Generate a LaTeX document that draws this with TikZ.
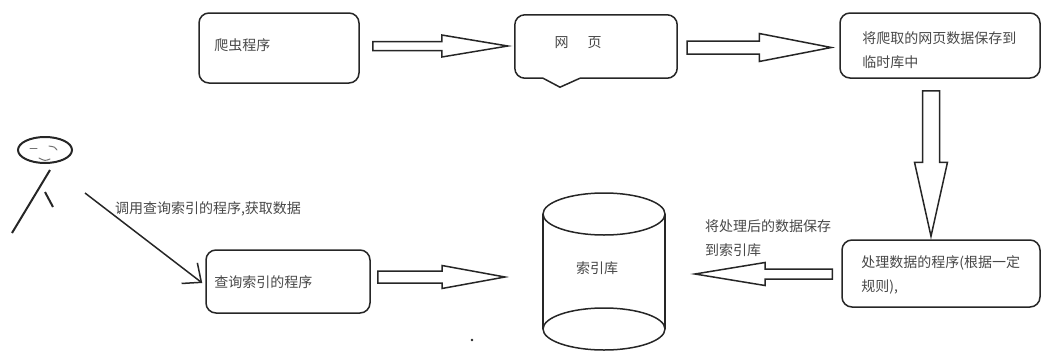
\documentclass[tikz,border=0pt]{standalone}
\usepackage{fontspec}
\newfontfamily\cjk{Noto Sans CJK SC}
\usetikzlibrary{calc,arrows.meta}

% Hollow block arrow: #1 tail, #2 tip, #3 shaft half-width, #4 head half-width, #5 head length
\newcommand\fatarrow[5]{%
  \path ($(#2)!#5!(#1)$) coordinate (fabase);
  \draw[ink, line join=miter]
    ($(#1)!#3!90:(#2)$) -- ($(fabase)!#3!90:(#2)$) -- ($(fabase)!#4!90:(#2)$)
    -- (#2)
    -- ($(fabase)!#4!-90:(#2)$) -- ($(fabase)!#3!-90:(#2)$) -- ($(#1)!#3!-90:(#2)$) -- cycle;
}

\begin{document}
\begin{tikzpicture}[x=1pt,y=-1pt,
  ink/.style={draw=black!85, line width=1.5pt},
  box/.style={ink, rounded corners=10pt, inner sep=0pt},
  txt/.style={font=\cjk\fontsize{14pt}{24pt}\selectfont, text=black!72, inner sep=0pt, align=left},
  face/.style={draw=black!55, line width=1pt, line cap=round}]

\useasboundingbox (0,0) rectangle (1042,351);

% ---- boxes ----
\node[box, minimum width=160pt, minimum height=70pt] (crawler) at (279,48) {};
\node[txt, anchor=west] (crawlertext) at ($(crawler.west)+(16,-3)$) {爬虫程序};

\node[minimum width=162pt, minimum height=63pt, inner sep=0pt] (page) at (596,46.5) {};
\draw[ink, rounded corners=10pt] ($(page.south)+(-16,0)$) -- (page.south east) -- (page.north east)
  -- (page.north west) -- (page.south west) -- ($(page.south)+(-53,0)$);
\draw[ink, line join=miter] ($(page.south)+(-53,0)$) -- ($(page.south)+(-36,9)$) -- ($(page.south)+(-16,0)$);
\node[txt] (pagetext) at ($(page.center)+(-18,-3.5)$) {网\hspace{19pt}页};

\node[box, minimum width=200pt, minimum height=65pt] (store) at (940,45.5) {};
\node[txt, anchor=west] (storetext) at ($(store.west)+(23,5)$) {将爬取的网页数据保存到\\临时库中};

\node[box, minimum width=198pt, minimum height=67pt] (process) at (941,273.5) {};
\node[txt, anchor=west] (processtext) at ($(process.west)+(20,1.5)$) {处理数据的程序(根据一定\\规则),};

\node[box, minimum width=164pt, minimum height=63pt] (query) at (288,281.5) {};
\node[txt, anchor=west] (querytext) at ($(query.west)+(9,0.5)$) {查询索引的程序};

% ---- index store (cylinder) ----
\coordinate (cyltop) at (604,214);
\coordinate (cylbot) at (604,329);
\draw[ink] (cyltop) ellipse [x radius=61pt, y radius=21pt];
\draw[ink] (cylbot) ellipse [x radius=61pt, y radius=21pt];
\draw[ink] ($(cyltop)+(-61,0)$) -- ($(cylbot)+(-61,0)$);
\draw[ink] ($(cyltop)+(61,0)$) -- ($(cylbot)+(61,0)$);
\node[txt] (index) at (597,268) {索引库};

% ---- block arrows ----
\coordinate (a1s) at ($(crawler.east)+(13,-2)$);
\coordinate (a1e) at ($(a1s -| page.west)+(-7,0)$);
\fatarrow{a1s}{a1e}{4.5pt}{11pt}{66pt}

\coordinate (a2s) at ($(page.east)+(10,1)$);
\coordinate (a2e) at ($(a2s -| store.west)+(-8,0)$);
\fatarrow{a2s}{a2e}{6.5pt}{14pt}{72pt}

\coordinate (a3s) at ($(store.south)+(-9,12)$);
\coordinate (a3e) at ($(a3s |- process.north)+(0,-3)$);
\fatarrow{a3s}{a3e}{8.5pt}{16.5pt}{74pt}

\coordinate (a4s) at ($(process.west)+(-9,0.5)$);
\coordinate (a4e) at ($(a4s -| cyltop)+(91,0)$);
\fatarrow{a4s}{a4e}{5pt}{11.5pt}{70pt}
\node[txt, anchor=west] (savelabel) at ($(a4e)+(10,-35.5)$) {将处理后的数据保存\\到索引库};

\coordinate (a5s) at ($(query.east)+(7,-4.5)$);
\coordinate (a5e) at ($(a5s -| cyltop)+(-99,0)$);
\fatarrow{a5s}{a5e}{6pt}{11.5pt}{63pt}

% ---- user figure ----
\coordinate (head) at (45,150);
\draw[draw=black!85, line width=2pt] (head) ellipse [x radius=27pt, y radius=13pt];
\draw[face] ($(head)+(-15,-2)$) -- ($(head)+(-8,-2)$);
\draw[face] ($(head)+(4,-4)$) .. controls ($(head)+(10,-3)$) .. ($(head)+(12,0)$);
\draw[face] ($(head)+(-6,8)$) .. controls ($(head)+(0,11)$) .. ($(head)+(5,9)$);
\draw[draw=black!85, line width=2pt] ($(head)+(5,20)$) -- ($(head)+(-33,83)$);
\draw[draw=black!85, line width=2pt] ($(head)+(0,42)$) -- ($(head)+(8,57)$);

\coordinate (calls) at ($(head)+(40,43)$);
\draw[ink, -{Straight Barb[length=15pt,width=26pt]}] (calls) -- ($(query.west)+(-3,1.5)$)
  node[txt, pos=0.25, anchor=base west, yshift=2.5pt] (calllabel) {调用查询索引的程序,获取数据};

% stray dot
\fill[black!85] (472,340) circle [radius=1.3pt];

\end{tikzpicture}
\end{document}
